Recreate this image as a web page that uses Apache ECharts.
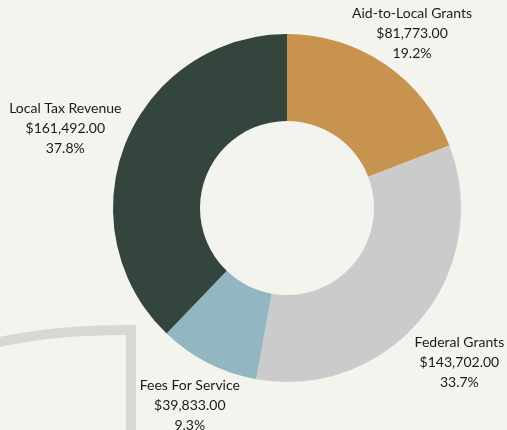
<!DOCTYPE html>
<html>
<head>
<meta charset="utf-8">
<script src="https://cdn.jsdelivr.net/npm/echarts@6/dist/echarts.min.js"></script>
<style>
  html, body { margin: 0; padding: 0; background: #f4f4ef; }
  #app { width: 507px; height: 430px; }
</style>
</head>
<body>
<div id="app"></div>
<script>
// data
var categories = ['Aid-to-Local Grants', 'Federal Grants', 'Fees For Service', 'Local Tax Revenue'];
var amounts = [81773, 143702, 39833, 161492];
var colors = ['#c8924f', '#cbcbcb', '#92b7c2', '#33453d'];
// small label nudges [dx, dy] per slice
var labelNudge = [[0, 0], [4, 19], [4, 9], [-20, 0]];

var myEchart = echarts.init(document.getElementById('app'));

function money(v) {
    return '$' + v.toLocaleString('en-US', { minimumFractionDigits: 2, maximumFractionDigits: 2 });
}

var decoStyle = { fill: 'none', stroke: '#d7d8d2', lineWidth: 10 };

myEchart.setOption({
    backgroundColor: '#f4f4ef',
    textStyle: { fontFamily: 'Lato' },
    // decorative corner line, bottom left
    graphic: [{
        type: 'bezierCurve',
        z: 0,
        shape: { x1: -10, y1: 344, cpx1: 40, cpy1: 333, cpx2: 80, cpy2: 330, x2: 131, y2: 330 },
        style: Object.assign({ lineCap: 'square' }, decoStyle)
    }, {
        type: 'line',
        z: 0,
        shape: { x1: 131, y1: 325, x2: 131, y2: 445 },
        style: decoStyle
    }],
    series: [{
        type: 'pie',
        z: 5,
        center: [287, 208],
        radius: [87, 174],
        startAngle: 90,
        clockwise: true,
        percentPrecision: 1,
        avoidLabelOverlap: false,
        color: colors,
        data: categories.map(function (name, i) {
            return { name: name, value: amounts[i] };
        }),
        label: {
            show: true,
            position: 'outside',
            formatter: function (p) {
                return '{n|' + p.name + '}\n{n|' + money(p.value) + '}\n{n|' + p.percent.toFixed(1) + '%}';
            },
            rich: {
                n: { fontFamily: 'Lato', fontSize: 14, color: '#1a1a1a', lineHeight: 20, align: 'center' }
            }
        },
        labelLine: { show: false, length: 38, length2: 0 },
        labelLayout: function (p) {
            var d = labelNudge[p.dataIndex];
            return { align: 'center', dx: d[0], dy: d[1] };
        },
        emphasis: { disabled: true }
    }]
});
</script>
</body>
</html>
